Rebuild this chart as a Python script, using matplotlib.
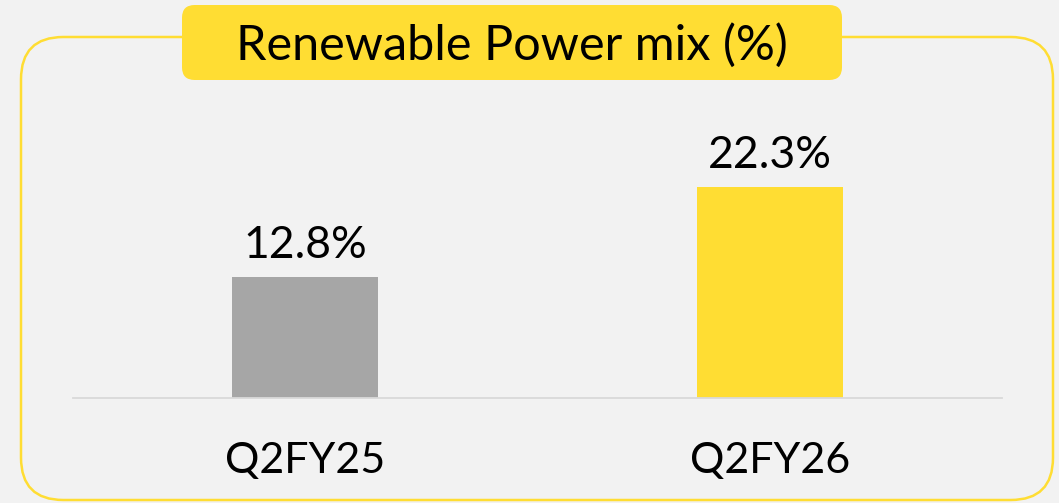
import matplotlib.pyplot as plt
from matplotlib.patches import FancyBboxPatch

plt.rcParams['font.family'] = ['Lato', 'DejaVu Sans']

categories = ['Q2FY25', 'Q2FY26']
values = [12.8, 22.3]
labels = ['12.8%', '22.3%']
colors = ['#A6A6A6', '#FFDD33']
title = 'Renewable Power mix (%)'

W, H = 1059, 503
fig = plt.figure(figsize=(W / 100, H / 100), dpi=100, facecolor='#F2F2F2')

# outer rounded border (figure pixel coords)
border = FancyBboxPatch((21 / W, 3 / H), 1032 / W, 463 / H,
                        boxstyle='round,pad=0,rounding_size=0.04',
                        transform=fig.transFigure, fill=False,
                        edgecolor='#FFDD33', linewidth=1.8,
                        mutation_aspect=W / H)
fig.patches.append(border)

# title box
tbox = FancyBboxPatch((182 / W, (H - 80) / H), 660 / W, 75 / H,
                      boxstyle='round,pad=0,rounding_size=0.012',
                      transform=fig.transFigure, facecolor='#FFDD33',
                      edgecolor='none', mutation_aspect=W / H)
fig.patches.append(tbox)
fig.text(512 / W, (H - 45) / H, title, ha='center', va='center',
         fontsize=35, color='black')

# bars axes: baseline at y=398, x from 73 to 1002
px_per_pct = 9.48
ax_h = 300
ax = fig.add_axes([73 / W, (H - 398) / H, 929 / W, ax_h / H])
ax.set_facecolor('none')
x = range(len(categories))
ax.bar(x, values, width=0.314, color=colors)
for xi, v, lab in zip(x, values, labels):
    ax.text(xi, v + 1.1, lab, ha='center', va='bottom', fontsize=32)
ax.set_xlim(-0.5, 1.5)
ax.set_ylim(0, ax_h / px_per_pct)
ax.set_xticks(list(x))
ax.set_xticklabels(categories, fontsize=31)
ax.tick_params(axis='x', length=0, pad=32)
ax.set_yticks([])
for s in ['top', 'left', 'right']:
    ax.spines[s].set_visible(False)
ax.spines['bottom'].set_color('#D9D9D9')
ax.spines['bottom'].set_linewidth(1.3)

fig.savefig('out.png', dpi=100, facecolor=fig.get_facecolor())
